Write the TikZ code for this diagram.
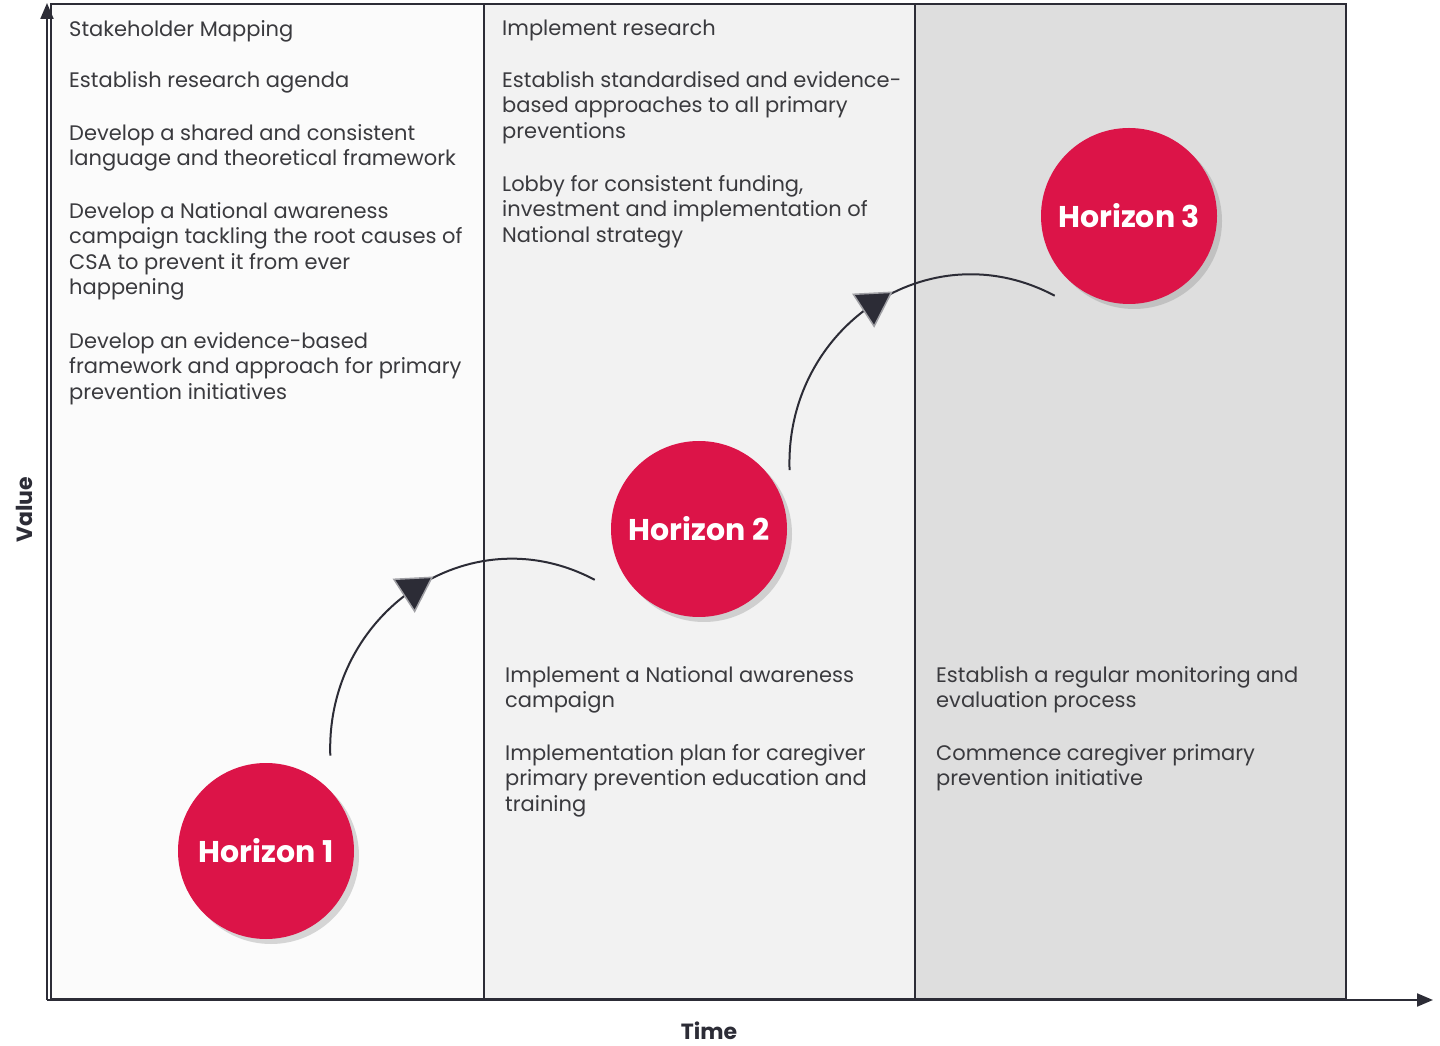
\documentclass[tikz,border=0pt]{standalone}
\usepackage{fontspec}
\setmainfont{Poppins}
\usepackage{xcolor}
\definecolor{AxisGray}{RGB}{44,44,54}
\definecolor{TextGray}{RGB}{58,58,62}
\definecolor{FillPanelA}{RGB}{251,251,251}
\definecolor{FillPanelB}{RGB}{242,242,242}
\definecolor{FillPanelC}{RGB}{222,222,222}
\definecolor{HorizonRed}{RGB}{220,20,72}
\definecolor{TipEdge}{RGB}{160,160,165}
\usepackage{tikz}
\usetikzlibrary{
  shapes, shapes.geometric,
  arrows.meta,
  positioning, calc, shadows
}
\tikzset{
  % Column panel
  panel/.style={
    rectangle, draw=AxisGray, line width=2.2pt,
    fill=FillPanelA, anchor=south west,
    minimum width=433pt, minimum height=995pt,
    inner sep=0pt
  },
  % Panel variants
  panel light/.style={panel, fill=FillPanelB, minimum width=431pt},
  panel dark/.style={panel, fill=FillPanelC, minimum width=431pt},
  % Horizon disc
  horizon/.style={
    circle, fill=HorizonRed, text=white,
    minimum size=176pt, inner sep=0pt,
    font=\fontsize{30}{33}\selectfont\bfseries,
    drop shadow={shadow xshift=5pt, shadow yshift=-5pt, opacity=0.3}
  },
  % Bullet text in panels
  item/.style={
    anchor=north west, align=left, inner sep=0pt,
    text=TextGray, font=\fontsize{21}{25.5}\selectfont
  },
  % Axis label
  axlabel/.style={font=\fontsize{22}{24}\selectfont\bfseries, text=AxisGray, inner sep=1pt},
  % Axes and curves
  axis/.style={-{Triangle[length=16pt,width=13pt]}, line width=2pt, AxisGray},
  curve/.style={line width=2pt, AxisGray},
  % Mid-curve marker
  tip/.style={
    regular polygon, regular polygon sides=3, shape border rotate=183,
    minimum size=44pt, inner sep=0pt,
    fill=AxisGray, draw=TipEdge, line width=1.5pt
  },
}

\begin{document}
\begin{tikzpicture}[x=1pt, y=1pt]
  \useasboundingbox (0,0) rectangle (1440,1045);

  %% Panels
  \node[panel] (p1) at (50,45) {};
  \node[panel light] (p2) at (483,45) {};
  \node[panel dark] (p3) at (914,45) {};

  %% Axes
  \coordinate (o) at (47,45);
  \coordinate (ytop) at (47,1042);
  \coordinate (xend) at (1433,45);
  \draw[axis] (o) -- (ytop);
  \draw[axis] (o) -- (xend);
  \node[axlabel, rotate=90] (val) at (24,535) {Value};
  \node[axlabel] (time) at (709,14) {Time};

  %% Horizon 1 column
  \node[item] (a1) at (69,1025) {Stakeholder Mapping};
  \node[item] (a2) at (69,974) {Establish research agenda};
  \node[item] (a3) at (69,921) {Develop a shared and consistent\\language and theoretical framework};
  \node[item] (a4) at (69,843) {Develop a National awareness\\campaign tackling the root causes of\\CSA to prevent it from ever\\happening};
  \node[item] (a5) at (69,713) {Develop an evidence-based\\framework and approach for primary\\prevention initiatives};

  %% Horizon 2 column
  \node[item] (b1) at (502,1025) {Implement research};
  \node[item] (b2) at (502,974) {Establish standardised and evidence-\\based approaches to all primary\\preventions};
  \node[item] (b3) at (502,870) {Lobby for consistent funding,\\investment and implementation of\\National strategy};
  \node[item] (b4) at (505,379) {Implement a National awareness\\campaign};
  \node[item] (b5) at (505,301) {Implementation plan for caregiver\\primary prevention education and\\training};

  %% Horizon 3 column
  \node[item] (c1) at (936,379) {Establish a regular monitoring and\\evaluation process};
  \node[item] (c2) at (936,301) {Commence caregiver primary\\prevention initiative};

  %% Horizons
  \node[horizon] (h1) at (266,194) {Horizon 1};
  \node[horizon] (h2) at (699,516) {Horizon 2};
  \node[horizon] (h3) at (1129,829) {Horizon 3};

  %% Steps between horizons
  \draw[curve] ($(h1)+(56:115)$) to[out=92, in=152, looseness=1.15]
    node[tip, pos=0.5] (t1) {} ($(h2)+(206:116)$);
  \draw[curve] ($(h2)+(33:108)$) to[out=92, in=152, looseness=1.15]
    node[tip, pos=0.5] (t2) {} ($(h3)+(227:109)$);

\end{tikzpicture}
\end{document}
